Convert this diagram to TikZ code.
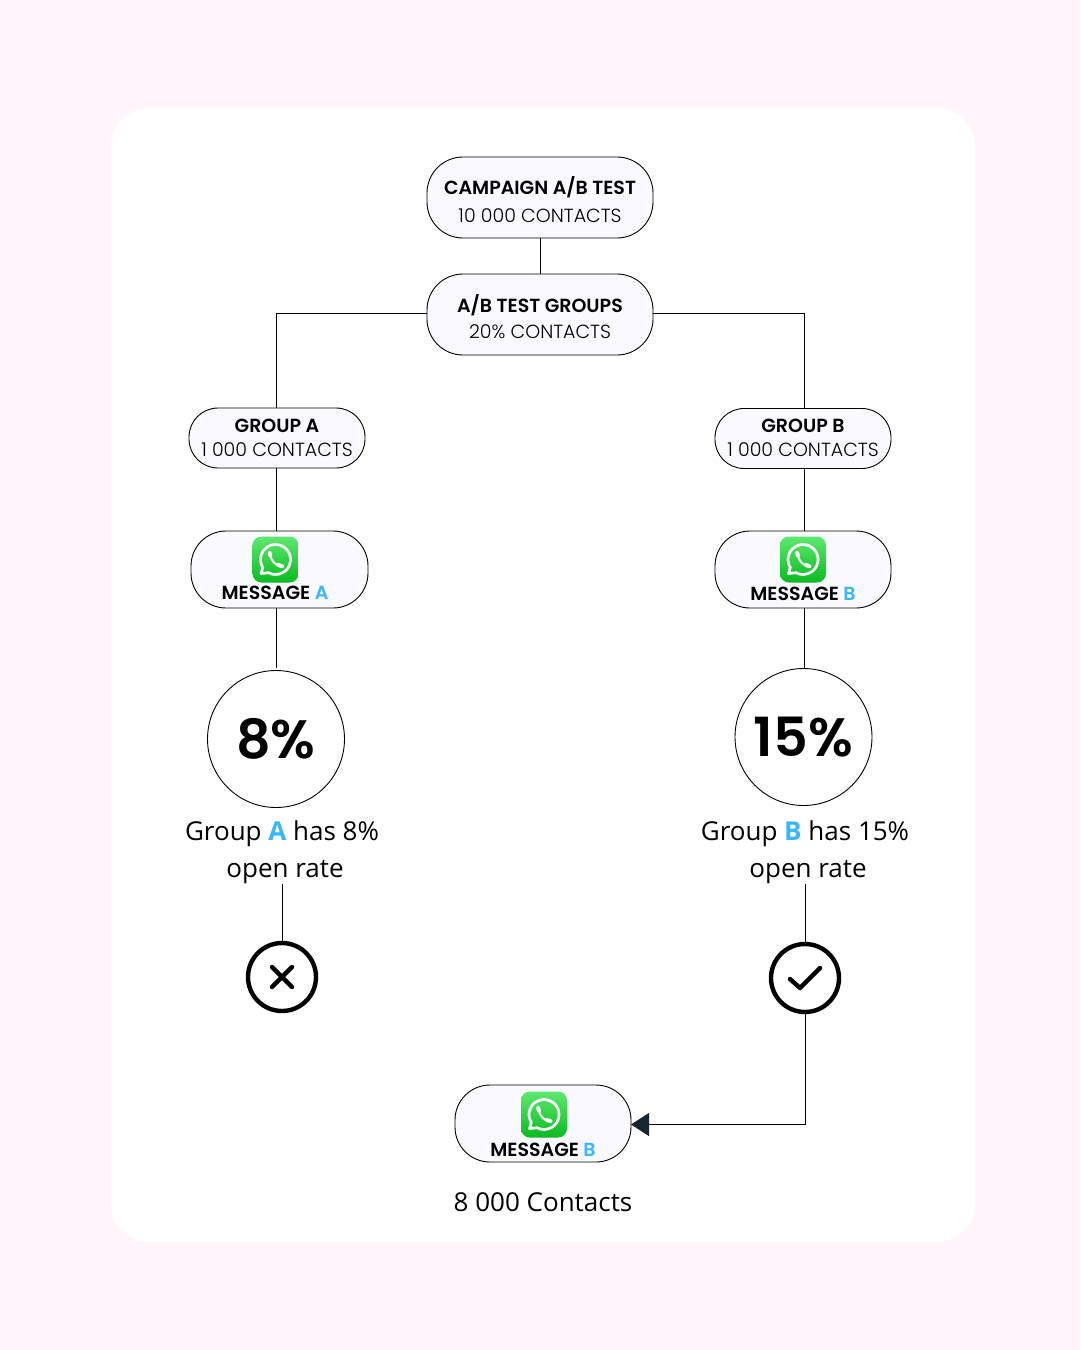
\documentclass[tikz,border=0pt]{standalone}
\usepackage{fontspec}
\setmainfont{Open Sans}
\newfontfamily\popb{Poppins SemiBold}
\newfontfamily\popl{Poppins Light}
\newfontfamily\popx{Poppins}[BoldFont={Poppins}]
\usetikzlibrary{arrows.meta,calc}
\definecolor{pagebg}{HTML}{FFF5FA}
\definecolor{pillfill}{HTML}{FAF9FF}
\definecolor{accent}{HTML}{38B6FF}
\definecolor{tipdark}{HTML}{16252F}
\definecolor{wagreentop}{HTML}{5EE870}
\definecolor{wagreenbot}{HTML}{0ABA20}
\newcommand{\twotext}[4]{\makebox[0pt]{\smash{\raisebox{#2pt}{\popb\fontsize{19}{19}\selectfont #1}}}\makebox[0pt]{\smash{\raisebox{#4pt}{\popl\fontsize{19}{19}\selectfont #3}}}}
\newcommand{\msgtext}[3]{\makebox[0pt]{\smash{\raisebox{#3pt}{\popb\fontsize{19}{19}\selectfont MESSAGE \textcolor{accent}{#1}}}}}
\tikzset{
  x=1pt,y=-1pt,
  pill/.style={draw=black,line width=0.9pt,fill=pillfill,inner sep=0pt,outer sep=0pt,minimum width=#1},
  bigpill/.style={pill=226pt,minimum height=81pt,rounded corners=36pt},
  grouppill/.style={pill=176pt,minimum height=60pt,rounded corners=29pt},
  msgpill/.style={pill=177pt,minimum height=77pt,rounded corners=35pt},
  ratecircle/.style={circle,draw=black,line width=0.9pt,fill=white,minimum size=137pt,inner sep=0pt,outer sep=0pt},
  verdict/.style={circle,draw=black,line width=4.4pt,fill=white,minimum size=68pt,inner sep=0pt,outer sep=2.2pt},
  link/.style={draw=black,line width=0.9pt},
  body/.style={font=\fontsize{26}{26}\selectfont,anchor=base,inner sep=0pt},
  pct/.style={font=\popb\fontsize{54}{54}\selectfont},
  waicon/.pic={
    \shade[top color=wagreentop,bottom color=wagreenbot,rounded corners=9pt] (-23,-23) rectangle (23,23);
    \draw[white,line width=2.7pt,line join=round] (0,0) ++(148:15) arc[start angle=148,end angle=478,radius=15] -- (-14.5,14) -- cycle;
    \draw[white,line width=2pt,line cap=round] (-5,-4) .. controls (-4.5,1) and (0,6) .. (5,6.5);
    \draw[white,line width=4pt,line cap=round] (-5.8,-6.5) -- (-5.2,-4);
    \draw[white,line width=4pt,line cap=round] (3,5.5) -- (6.5,6.8);
  }
}
\begin{document}
\begin{tikzpicture}
\useasboundingbox (0,0) rectangle (1080,1350);
\fill[pagebg] (0,0) rectangle (1080,1350);
\fill[white,rounded corners=38pt] (111,108) rectangle (975,1242);

% boxes
\node[bigpill] (root) at (540,197.5) {\twotext{CAMPAIGN A/B TEST}{3.5}{10 000 CONTACTS}{-24.5}};
\node[bigpill] (groups) at (540,314.5) {\twotext{A/B TEST GROUPS}{2.5}{20\% CONTACTS}{-24}};
\node[grouppill] (ga) at (277,438) {\twotext{GROUP A}{6}{1 000 CONTACTS}{-18}};
\node[grouppill] (gb) at (803,438.5) {\twotext{GROUP B}{6.5}{1 000 CONTACTS}{-17.5}};
\node[msgpill] (ma) at (279.5,569.5) {\hspace{-9pt}\msgtext{A}{}{-30}};
\node[msgpill,pill=176pt] (mb) at (803,569.5) {\msgtext{B}{}{-31}};
\node[msgpill,pill=176pt] (mf) at (543,1123.5) {\msgtext{B}{}{-33}};

% rate circles and texts
\node[ratecircle,pct] (ca) at (276,739) {8\%};
\node[ratecircle,pct] (cb) at (803.5,737) {15\%};
\node[body] (ta1) at (282,840) {Group \textbf{\textcolor{accent}{A}} has 8\%};
\node[body] (ta2) at (285,877) {open rate};
\node[body] (tb1) at (805,840) {Group \textbf{\textcolor{accent}{B}} has 15\%};
\node[body] (tb2) at (808,877) {open rate};
\node[body] (tf) at (543,1211) {8 000 Contacts};

% verdict circles
\node[verdict] (no) at (282,977) {};
\node[verdict] (yes) at (805,978) {};
\draw[line width=4.4pt,line cap=round] ($(no)+(-10,-10)$) -- ($(no)+(10,10)$) ($(no)+(10,-10)$) -- ($(no)+(-10,10)$);
\draw[line width=4.4pt,line cap=round,line join=round] ($(yes)+(-15,1)$) -- ($(yes)+(-5,10)$) -- ($(yes)+(15,-10)$);

% icons
\pic at (275.5,559.5) {waicon};
\pic at (803,559.5) {waicon};
\pic at (544,1114.5) {waicon};

% connectors
\coordinate (ax) at (ca.center);
\coordinate (bx) at (804,0);
\coordinate (noTop) at (282,884);
\coordinate (yesTop) at (805,884);
\coordinate (bend) at (805,1124.5);
\draw[link] (root) -- (groups);
\draw[link] (groups.west |- 0,313) -- (ax |- 0,313) -- (ax |- ga.north);
\draw[link] (groups.east |- 0,313) -- (bx |- 0,313) -- (bx |- gb.north);
\draw[link] (ax |- ga.south) -- (ax |- ma.north);
\draw[link] (bx |- gb.south) -- (bx |- mb.north);
\draw[link] (ax |- ma.south) -- ($(ca.north)+(0,-2.5)$);
\draw[link] (bx |- mb.south) -- (bx |- cb.north);
\draw[link] (noTop) -- (no.north);
\draw[link] (yesTop) -- (yes.north);
\draw[link,-{Triangle[length=18pt,width=23pt,color=tipdark]}] (yes.south) -- (bend) -- (mf.east |- bend);
\end{tikzpicture}
\end{document}
